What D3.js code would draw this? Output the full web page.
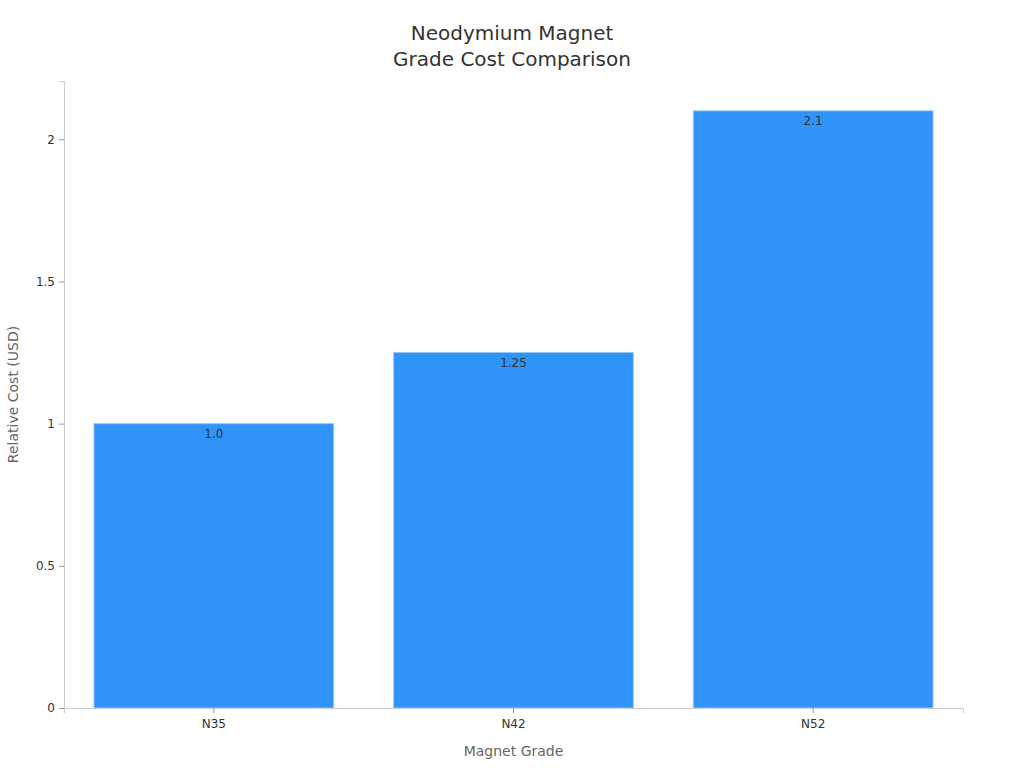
<!DOCTYPE html>
<html>
<head>
<meta charset="utf-8">
<script src="https://cdn.jsdelivr.net/npm/d3@7"></script>
<style>
  body { margin: 0; background: #fff; }
  text { font-family: "DejaVu Sans", sans-serif; }
</style>
</head>
<body>
<svg id="chartsvg" width="1024" height="768"></svg>
<script>
var vis = d3.select("#chartsvg");
let grades = ["N35", "N42", "N52"];
let costs = [1.0, 1.25, 2.1];
let costLabels = ["1.0", "1.25", "2.1"];
let yTicks = [0, 0.5, 1, 1.5, 2];
const margin = {left: 64, right: 61, top: 81, bottom: 60};
const width = 1024 - margin.left - margin.right;
const height = 768 - margin.top - margin.bottom;

var xScale = d3.scaleBand()
    .domain(grades)
    .range([0, width])
    .paddingInner(0.2)
    .paddingOuter(0.1);

var yScale = d3.scaleLinear()
    .domain([0, d3.max(costs) * 1.05])
    .range([height, 0]);

var g = vis.append("g")
    .attr("transform", `translate(${margin.left},${margin.top})`);

// bars
g.selectAll(".bar").data(costs)
    .enter()
    .append("rect").attr("class", "bar")
    .attr("x", (d, i) => xScale(grades[i]))
    .attr("y", d => yScale(d))
    .attr("width", xScale.bandwidth())
    .attr("height", d => yScale(0) - yScale(d))
    .attr("fill", "#2f93f8")
    .attr("stroke", "#94c9f7")
    .attr("stroke-width", 1);

g.selectAll(".val").data(costs)
    .enter()
    .append("text").attr("class", "val")
    .attr("x", (d, i) => xScale(grades[i]) + xScale.bandwidth() / 2)
    .attr("y", d => yScale(d) + 14)
    .attr("text-anchor", "middle")
    .attr("font-size", 12)
    .attr("fill", "#333")
    .text((d, i) => costLabels[i]);

// axes
var xAxis = g.append("g")
    .attr("transform", `translate(0,${height})`)
    .call(d3.axisBottom(xScale).tickSize(5).tickPadding(6));
var yAxis = g.append("g")
    .call(d3.axisLeft(yScale).tickValues(yTicks).tickFormat(d3.format("")).tickSize(5).tickPadding(4));

[xAxis, yAxis].forEach(a => {
    a.select(".domain").attr("stroke", "#ccc");
    a.selectAll(".tick line").attr("stroke", "#999");
    a.selectAll(".tick text").attr("fill", "#333").attr("font-size", 12)
        .attr("font-family", "DejaVu Sans, sans-serif");
});

// titles
vis.append("text")
    .attr("x", 512).attr("y", 40)
    .attr("text-anchor", "middle")
    .attr("font-size", 20)
    .attr("fill", "#333")
    .text("Neodymium Magnet");
vis.append("text")
    .attr("x", 512).attr("y", 66)
    .attr("text-anchor", "middle")
    .attr("font-size", 20)
    .attr("fill", "#333")
    .text("Grade Cost Comparison");

vis.append("text")
    .attr("x", margin.left + width / 2).attr("y", 756)
    .attr("text-anchor", "middle")
    .attr("font-size", 14)
    .attr("fill", "#666")
    .text("Magnet Grade");

vis.append("text")
    .attr("transform", `translate(18,${margin.top + height / 2}) rotate(-90)`)
    .attr("text-anchor", "middle")
    .attr("font-size", 14)
    .attr("fill", "#666")
    .text("Relative Cost (USD)");
</script>
</body>
</html>
